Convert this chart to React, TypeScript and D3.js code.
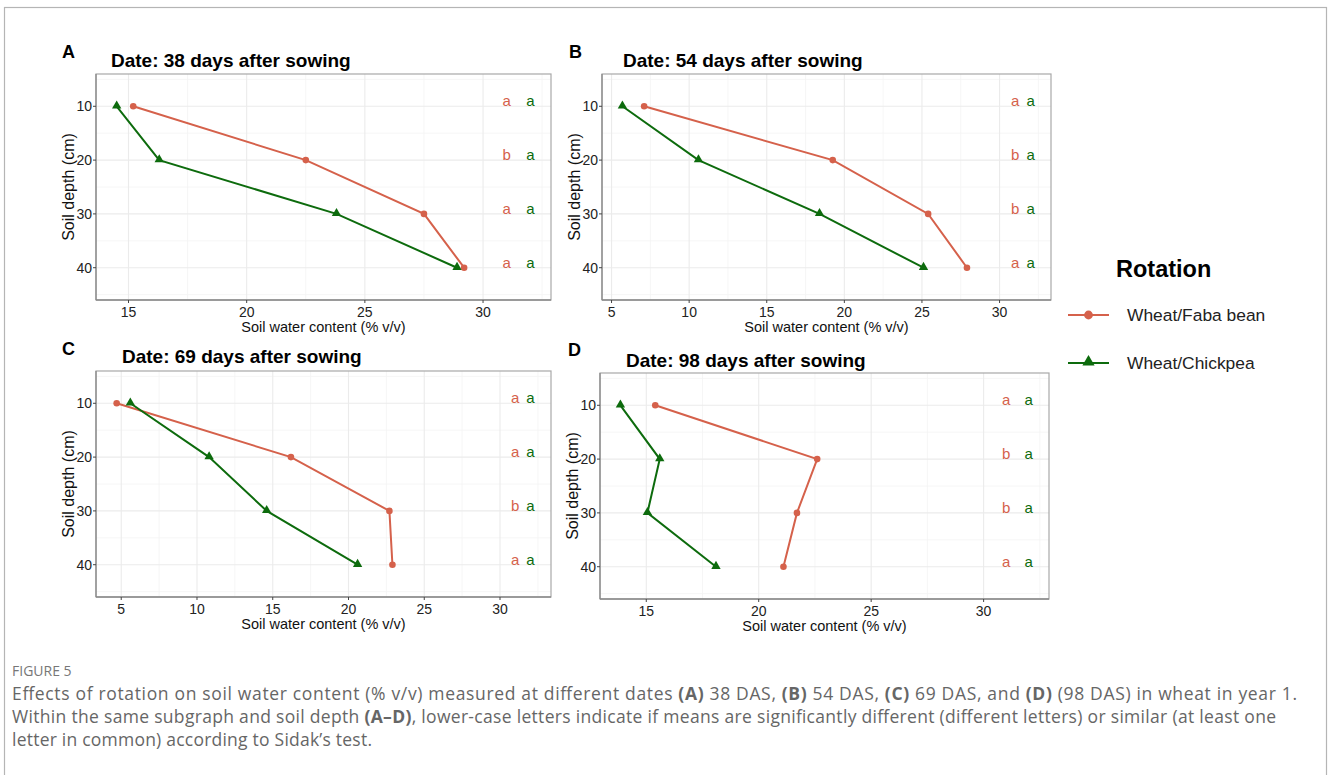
import React from 'react';
import * as d3 from 'd3';

// soil depths (cm) and readings, % v/v
const depths = [10, 20, 30, 40];
const depthTicks = [10, 20, 30, 40];

const fabaA = [15.2, 22.5, 27.5, 29.2];
const chickA = [14.5, 16.3, 23.8, 28.9];
const fabaB = [7.1, 19.25, 25.4, 27.9];
const chickB = [5.7, 10.6, 18.4, 25.1];
const fabaC = [4.7, 16.2, 22.7, 22.9];
const chickC = [5.6, 10.8, 14.6, 20.6];
const fabaD = [15.4, 22.6, 21.7, 21.1];
const chickD = [13.85, 15.6, 15.05, 18.1];

// Sidak letters per depth
const lettersFabaA = ['a', 'b', 'a', 'a'];
const lettersFabaB = ['a', 'b', 'b', 'a'];
const lettersFabaC = ['a', 'a', 'b', 'a'];
const lettersFabaD = ['a', 'b', 'b', 'a'];
const lettersChick = ['a', 'a', 'a', 'a'];
const letterXFaba = 31;
const letterXChick = 32;

const xTicksA = [15, 20, 25, 30];
const xTicksB = [5, 10, 15, 20, 25, 30];
const xTicksC = [5, 10, 15, 20, 25, 30];
const xTicksD = [15, 20, 25, 30];

const panelTags = ['A', 'B', 'C', 'D'];
const panelTitles = [
  'Date: 38 days after sowing',
  'Date: 54 days after sowing',
  'Date: 69 days after sowing',
  'Date: 98 days after sowing',
];
const seriesNames = ['Wheat/Faba bean', 'Wheat/Chickpea'];

const FABA = '#d5614b';
const CHICK = '#0d6b0d';
const FONT = '"Liberation Sans", Arial, sans-serif';

const panels = [
  { faba: fabaA, chick: chickA, lf: lettersFabaA, ticks: xTicksA, box: [96, 74, 551, 300], title: [111, 67], tag: [62, 58], yLab: 74 },
  { faba: fabaB, chick: chickB, lf: lettersFabaB, ticks: xTicksB, box: [602, 74, 1051, 300], title: [623, 67], tag: [569, 58], yLab: 580 },
  { faba: fabaC, chick: chickC, lf: lettersFabaC, ticks: xTicksC, box: [96, 371, 551, 597], title: [122, 363], tag: [62, 355], yLab: 74 },
  { faba: fabaD, chick: chickD, lf: lettersFabaD, ticks: xTicksD, box: [600, 373, 1049, 599], title: [626, 367], tag: [568, 356], yLab: 578 },
];

const triangle = d3.symbol(d3.symbolTriangle, 38)();
const triangleBig = d3.symbol(d3.symbolTriangle, 64)();

function Panel({ p, i }: { p: any; i: number }) {
  const [x0, y0, x1, y1] = p.box;
  const ext = d3.extent([...p.faba, ...p.chick, letterXFaba, letterXChick]) as [number, number];
  const pad = (ext[1] - ext[0]) * 0.05;
  const x = d3.scaleLinear().domain([ext[0] - pad, ext[1] + pad]).range([x0, x1]);
  const y = d3.scaleLinear().domain([4, 46]).range([y0, y1]);

  const minorX = p.ticks.map((t: number) => t + 2.5).concat([p.ticks[0] - 2.5])
    .filter((t: number) => t > x.domain()[0] && t < x.domain()[1]);
  const minorY = [5, 15, 25, 35, 45];

  const line = d3.line<number>().x((d) => x(d)).y((_, k) => y(depths[k]));

  return (
    <g>
      <text x={p.tag[0]} y={p.tag[1]} fontFamily={FONT} fontWeight="bold" fontSize={18}>{panelTags[i]}</text>
      <text x={p.title[0]} y={p.title[1]} fontFamily={FONT} fontWeight="bold" fontSize={19}>{panelTitles[i]}</text>
      <rect x={x0} y={y0} width={x1 - x0} height={y1 - y0} fill="#fff" />
      {minorX.map((t: number) => (
        <line key={'mx' + t} x1={x(t)} x2={x(t)} y1={y0} y2={y1} stroke="#f4f4f4" strokeWidth={0.8} />
      ))}
      {minorY.map((t) => (
        <line key={'my' + t} x1={x0} x2={x1} y1={y(t)} y2={y(t)} stroke="#f4f4f4" strokeWidth={0.8} />
      ))}
      {p.ticks.map((t: number) => (
        <line key={'gx' + t} x1={x(t)} x2={x(t)} y1={y0} y2={y1} stroke="#ebebeb" strokeWidth={1.1} />
      ))}
      {depthTicks.map((t) => (
        <line key={'gy' + t} x1={x0} x2={x1} y1={y(t)} y2={y(t)} stroke="#ebebeb" strokeWidth={1.1} />
      ))}
      <rect x={x0} y={y0} width={x1 - x0} height={y1 - y0} fill="none" stroke="#a8a8a8" strokeWidth={1.2} />
      <line x1={x0} x2={x1} y1={y1} y2={y1} stroke="#8a8a8a" strokeWidth={1.3} />
      <line x1={x0} x2={x0} y1={y0} y2={y1} stroke="#8a8a8a" strokeWidth={1.3} />

      {/* x axis */}
      {p.ticks.map((t: number) => (
        <g key={'tx' + t}>
          <line x1={x(t)} x2={x(t)} y1={y1} y2={y1 + 3} stroke="#444" />
          <text x={x(t)} y={y1 + 16.5} textAnchor="middle" fontFamily={FONT} fontSize={14} fill="#222">{t}</text>
        </g>
      ))}
      <text x={(x0 + x1) / 2} y={y1 + 31.5} textAnchor="middle" fontFamily={FONT} fontSize={14.5} fill="#111">
        Soil water content (% v/v)
      </text>

      {/* y axis */}
      {depthTicks.map((t) => (
        <g key={'ty' + t}>
          <line x1={x0 - 3} x2={x0} y1={y(t)} y2={y(t)} stroke="#444" />
          <text x={x0 - 4} y={y(t) + 5} textAnchor="end" fontFamily={FONT} fontSize={14} fill="#222">{t}</text>
        </g>
      ))}
      <text transform={`translate(${p.yLab},${(y0 + y1) / 2}) rotate(-90)`} textAnchor="middle" fontFamily={FONT} fontSize={16} fill="#111">
        Soil depth (cm)
      </text>

      {/* series */}
      <path d={line(p.faba) as string} fill="none" stroke={FABA} strokeWidth={2} />
      <path d={line(p.chick) as string} fill="none" stroke={CHICK} strokeWidth={2} />
      {p.faba.map((v: number, k: number) => (
        <circle key={'f' + k} cx={x(v)} cy={y(depths[k])} r={3.3} fill={FABA} />
      ))}
      {p.chick.map((v: number, k: number) => (
        <path key={'c' + k} d={triangle as string} transform={`translate(${x(v)},${y(depths[k]) - 0.5})`} fill={CHICK} />
      ))}

      {/* letters */}
      {depths.map((d, k) => (
        <g key={'l' + k} fontFamily={FONT} fontSize={15}>
          <text x={x(letterXFaba)} y={y(d)} textAnchor="middle" fill={FABA}>{p.lf[k]}</text>
          <text x={x(letterXChick)} y={y(d)} textAnchor="middle" fill={CHICK}>{lettersChick[k]}</text>
        </g>
      ))}
    </g>
  );
}

export default function App() {
  const capStyle = { fontFamily: '"Open Sans", "Noto Sans", sans-serif', fill: '#666' };
  return (
    <svg width={1328} height={775} style={{ position: 'absolute', left: 0, top: 0, background: '#fff' }}>
      <rect x={4.5} y={7.5} width={1322} height={800} fill="#fff" stroke="#b5b5b5" strokeWidth={1.2} />
      {panels.map((p, i) => <Panel key={i} p={p} i={i} />)}

      {/* legend */}
      <text x={1116} y={277} fontFamily={FONT} fontWeight="bold" fontSize={23.5}>Rotation</text>
      <line x1={1068} x2={1109} y1={315} y2={315} stroke={FABA} strokeWidth={2.2} />
      <circle cx={1088.5} cy={315} r={4.4} fill={FABA} />
      <text x={1127} y={321} fontFamily={FONT} fontSize={17.4} fill="#222">{seriesNames[0]}</text>
      <line x1={1068} x2={1109} y1={363} y2={363} stroke={CHICK} strokeWidth={2.2} />
      <path d={triangleBig as string} transform="translate(1088.5,362)" fill={CHICK} />
      <text x={1127} y={369} fontFamily={FONT} fontSize={17.4} fill="#222">{seriesNames[1]}</text>

      {/* caption */}
      <text x={12} y={676} fontSize={14} style={{ ...capStyle, fill: '#777' }}>FIGURE 5</text>
      <text x={12} y={700} fontSize={17.5} textLength={1285} lengthAdjust="spacing" style={capStyle}>
        Effects of rotation on soil water content (% v/v) measured at different dates <tspan fontWeight="bold">(A)</tspan> 38 DAS, <tspan fontWeight="bold">(B)</tspan> 54 DAS, <tspan fontWeight="bold">(C)</tspan> 69 DAS, and <tspan fontWeight="bold">(D)</tspan> (98 DAS) in wheat in year 1.
      </text>
      <text x={12} y={723} fontSize={17.5} textLength={1264} lengthAdjust="spacing" style={capStyle}>
        Within the same subgraph and soil depth <tspan fontWeight="bold">(A–D)</tspan>, lower-case letters indicate if means are significantly different (different letters) or similar (at least one
      </text>
      <text x={12} y={746} fontSize={17.5} textLength={360} lengthAdjust="spacing" style={capStyle}>
        letter in common) according to Sidak’s test.
      </text>
    </svg>
  );
}
